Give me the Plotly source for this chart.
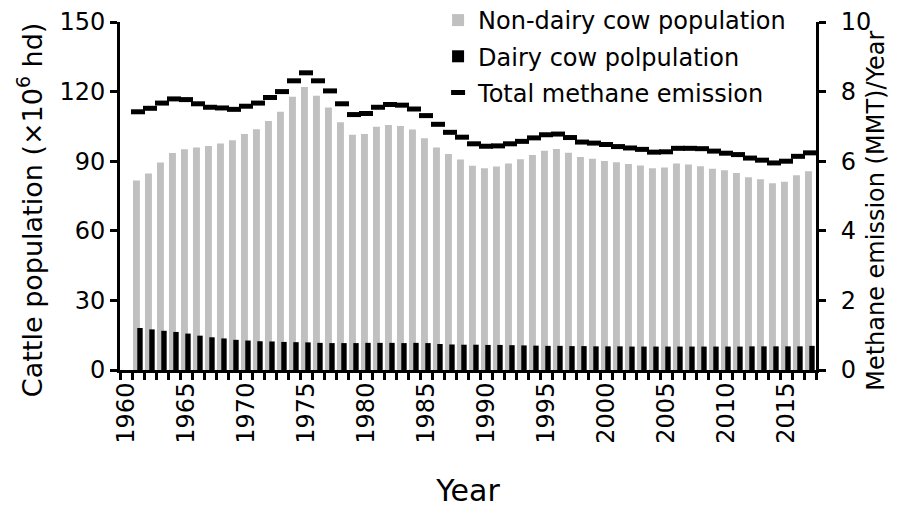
import plotly.graph_objects as go

# --- Data ---
years = list(range(1961, 2018))

non_dairy_top = [
    81.7, 84.7, 89.4, 93.5, 95.2, 95.9, 96.6, 97.6, 99.0, 101.7,
    103.8, 107.3, 111.3, 117.8, 122.0, 118.2, 113.1, 106.8, 101.4, 101.7,
    104.8, 105.6, 105.2, 103.7, 99.9, 95.9, 93.1, 90.7, 88.0, 87.0,
    87.7, 89.0, 90.8, 92.7, 94.5, 95.3, 93.6, 91.8, 91.1, 90.1,
    89.5, 88.8, 88.1, 87.0, 87.3, 89.0, 88.6, 87.8, 86.7, 86.1,
    84.9, 83.1, 82.2, 80.5, 81.1, 83.9, 85.7,
]

dairy = [
    18.1, 17.5, 16.9, 16.4, 15.7, 14.8, 14.1, 13.6, 13.0, 12.7,
    12.4, 12.3, 12.1, 12.0, 11.9, 11.7, 11.6, 11.6, 11.6, 11.7,
    11.7, 11.7, 11.6, 11.7, 11.6, 11.2, 11.0, 10.9, 10.9, 10.8,
    10.8, 10.7, 10.6, 10.5, 10.4, 10.4, 10.3, 10.3, 10.2, 10.2,
    10.2, 10.1, 10.1, 10.1, 10.1, 10.1, 10.1, 10.1, 10.1, 10.1,
    10.1, 10.2, 10.2, 10.2, 10.2, 10.2, 10.4,
]

methane = [
    7.42, 7.52, 7.67, 7.79, 7.77, 7.65, 7.55, 7.53, 7.49, 7.58,
    7.67, 7.83, 8.00, 8.31, 8.54, 8.31, 8.02, 7.65, 7.34, 7.37,
    7.55, 7.63, 7.61, 7.50, 7.31, 7.06, 6.83, 6.69, 6.50, 6.43,
    6.44, 6.50, 6.57, 6.67, 6.76, 6.78, 6.68, 6.55, 6.52, 6.48,
    6.42, 6.38, 6.34, 6.26, 6.27, 6.37, 6.37, 6.36, 6.29, 6.23,
    6.19, 6.09, 6.03, 5.95, 6.00, 6.14, 6.24,
]

year_ticks = list(range(1960, 2016, 5))

FONT = "DejaVu Sans"

fig = go.Figure()

fig.add_trace(go.Bar(
    x=years, y=non_dairy_top,
    name="Non-dairy cow population",
    legendgroup="a",
    marker=dict(color="#c0c0c0", line=dict(width=0)),
    width=0.58, offset=-0.42,
))

fig.add_trace(go.Bar(
    x=years, y=dairy,
    name="Dairy cow polpulation",
    legendgroup="b",
    marker=dict(color="black", line=dict(width=0)),
    width=0.45, offset=-0.06,
))

fig.add_trace(go.Scatter(
    x=years, y=methane,
    name="Total methane emission",
    legendgroup="c",
    yaxis="y2",
    mode="markers",
    marker=dict(symbol="line-ew", size=10, color="black",
                line=dict(color="black", width=5)),
))

# --- Axis titles placed as annotations (left / right) ---
fig.add_annotation(
    text="Cattle population (×10<sup>6</sup> hd)",
    xref="paper", yref="paper", x=-0.129, y=0.46,
    xanchor="center", yanchor="middle",
    textangle=-90, showarrow=False,
    font=dict(size=27),
)
fig.add_annotation(
    text="Methane emission (MMT)/Year",
    xref="paper", yref="paper", x=1.086, y=0.457,
    xanchor="center", yanchor="middle",
    textangle=-90, showarrow=False,
    font=dict(size=24),
)

fig.update_layout(
    width=898, height=507,
    barmode="overlay",
    plot_bgcolor="white",
    paper_bgcolor="white",
    font=dict(family=FONT, size=24, color="black"),
    margin=dict(l=112, r=90, t=14, b=145, autoexpand=False),
    xaxis=dict(
        range=[1959.5, 2017.5],
        tickvals=year_ticks,
        ticks="",
        tickangle=-90,
        tickfont=dict(size=24),
        ticklabeloverflow="allow",
        showline=True, linecolor="black", linewidth=3,
        showgrid=False, zeroline=False,
        minor=dict(tick0=1959.5, dtick=1, ticks="outside",
                   ticklen=7, tickwidth=3, tickcolor="black"),
        title=dict(text="Year", font=dict(size=30), standoff=38),
    ),
    yaxis=dict(
        range=[0, 150],
        tickvals=[0, 30, 60, 90, 120, 150],
        ticks="outside", ticklen=7, tickwidth=3, tickcolor="black",
        ticklabeloverflow="allow",
        showline=True, linecolor="black", linewidth=3,
        showgrid=False, zeroline=False,
        tickfont=dict(size=24),
    ),
    yaxis2=dict(
        range=[0, 10],
        overlaying="y", side="right",
        tickvals=[0, 2, 4, 6, 8, 10],
        ticks="outside", ticklen=7, tickwidth=3, tickcolor="black",
        ticklabelstandoff=10,
        ticklabeloverflow="allow",
        showline=True, linecolor="black", linewidth=3,
        showgrid=False, zeroline=False,
        tickfont=dict(size=24),
    ),
    legend=dict(
        x=0.457, y=1.069, xanchor="left", yanchor="top",
        bgcolor="rgba(0,0,0,0)",
        font=dict(size=24),
        itemwidth=30,
        tracegroupgap=2,
    ),
)

fig.write_html("out.html")
